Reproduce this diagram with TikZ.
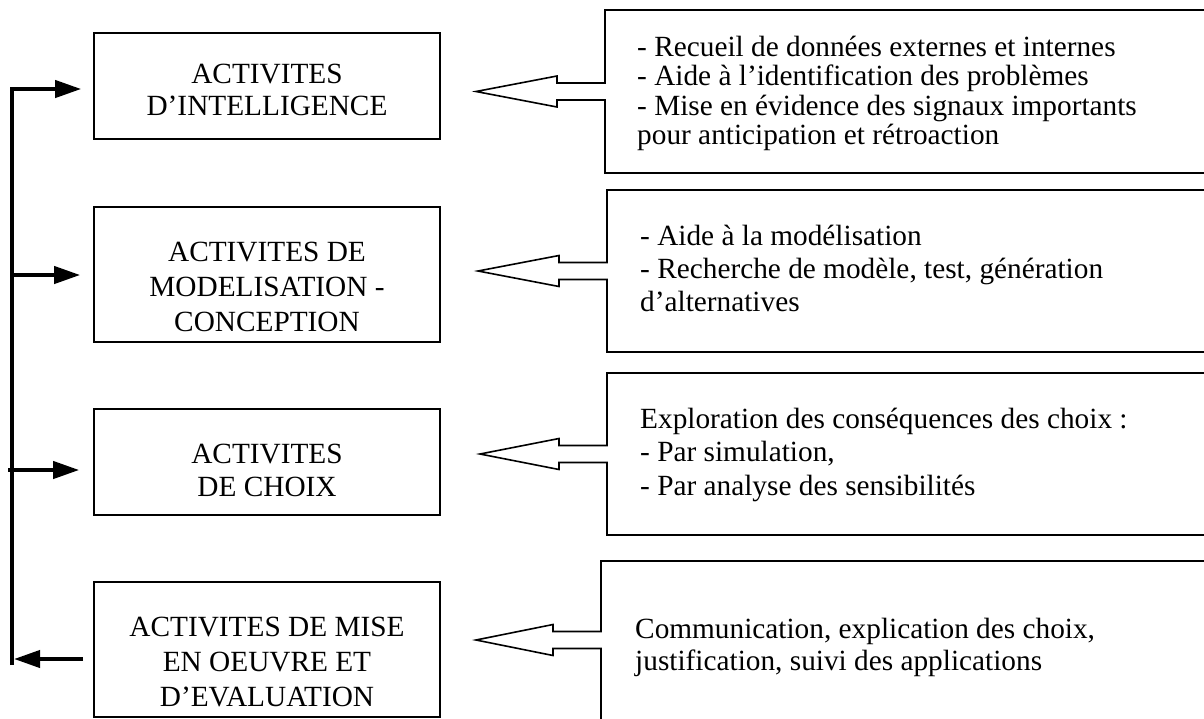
\documentclass[tikz,border=0pt]{standalone}
\usepackage{fontspec}
\setmainfont{Liberation Serif}
\usetikzlibrary{arrows.meta}
\newcommand\tstrut{\rule{0pt}{24pt}}
\newcommand\tfont[1]{\fontsize{29.3}{#1}\selectfont\lineskiplimit=-20pt\relax}
\newcommand\calloutshape[5]{% tip x, mid y, top, bottom, left
  \draw[callout] (#5,#3) -- (1215,#3) -- (1215,#4) -- (#5,#4)
    -- (#5,#2+8.5) -- (#5-48,#2+8.5) -- (#5-48,#2+15.5) -- (#1,#2)
    -- (#5-48,#2-15.5) -- (#5-48,#2-8.5) -- (#5,#2-8.5) -- cycle;}
\begin{document}
\begin{tikzpicture}[x=1pt,y=-1pt,
  box/.style={draw,line width=1.6pt,inner sep=0pt,minimum width=346pt},
  boxtxt/.style={inner sep=0pt,align=center,anchor=north,font=\tfont{35}},
  calltxt/.style={inner sep=0pt,align=left,anchor=north west,font=\tfont{33}},
  callout/.style={draw,line width=1.6pt,line join=miter},
  fb/.style={line width=4pt,line join=miter,-{Triangle[length=26pt,width=17pt]}}]
\useasboundingbox (0,0) rectangle (1204,718);
\clip (0,0) rectangle (1204,718);

% left boxes
\node[box,minimum height=106pt] (b1) at (267,86) {};
\node[box,minimum height=135pt] (b2) at (267,274.5) {};
\node[box,minimum height=106pt] (b3) at (267,462) {};
\node[box,minimum height=135pt] (b4) at (267,649.5) {};

\node[boxtxt,font=\tfont{32}] (t1) at (267,83-24) {\tstrut ACTIVITES\\D’INTELLIGENCE};
\node[boxtxt] (t2) at (267,261-24) {\tstrut ACTIVITES DE\\MODELISATION -\\CONCEPTION};
\node[boxtxt,font=\tfont{33}] (t3) at (267,463-24) {\tstrut ACTIVITES\\DE CHOIX};
\node[boxtxt] (t4) at (267,636-24) {\tstrut ACTIVITES DE MISE\\EN OEUVRE ET\\D’EVALUATION};

% callouts
\calloutshape{476}{91.5}{10}{173}{605}
\calloutshape{478}{271}{190}{352}{607}
\calloutshape{480}{454}{373}{535}{607}
\calloutshape{476}{640}{561}{720}{601}

\node[calltxt,font=\tfont{29.5}] (c1) at (637,56-24) {\tstrut - Recueil de données externes et internes\\- Aide à l’identification des problèmes\\- Mise en évidence des signaux importants\\pour anticipation et rétroaction};
\node[calltxt] (c2) at (640,245-24) {\tstrut - Aide à la modélisation\\- Recherche de modèle, test, génération\\d’alternatives};
\node[calltxt,font=\tfont{33.5}] (c3) at (640,428-24) {\tstrut Exploration des conséquences des choix :\\- Par simulation,\\- Par analyse des sensibilités};
\node[calltxt,font=\tfont{32}] (c4) at (635,638-24) {\tstrut Communication, explication des choix,\\justification, suivi des applications};

% feedback loop
\coordinate (top) at (12,89);
\coordinate (bot) at (12,665);
\coordinate (m2) at (12,275);
\coordinate (m3) at (8,470);
\coordinate (m4) at (14,659);
\draw[fb,shorten >=12pt] (bot) -- (top) -- (top -| b1.west);
\draw[fb,shorten >=13pt] (m2) -- (m2 -| b2.west);
\draw[fb,shorten >=14pt] (m3) -- (m3 -| b3.west);
\draw[fb,shorten <=10pt] (m4 -| b4.west) -- (m4);
\end{tikzpicture}
\end{document}
